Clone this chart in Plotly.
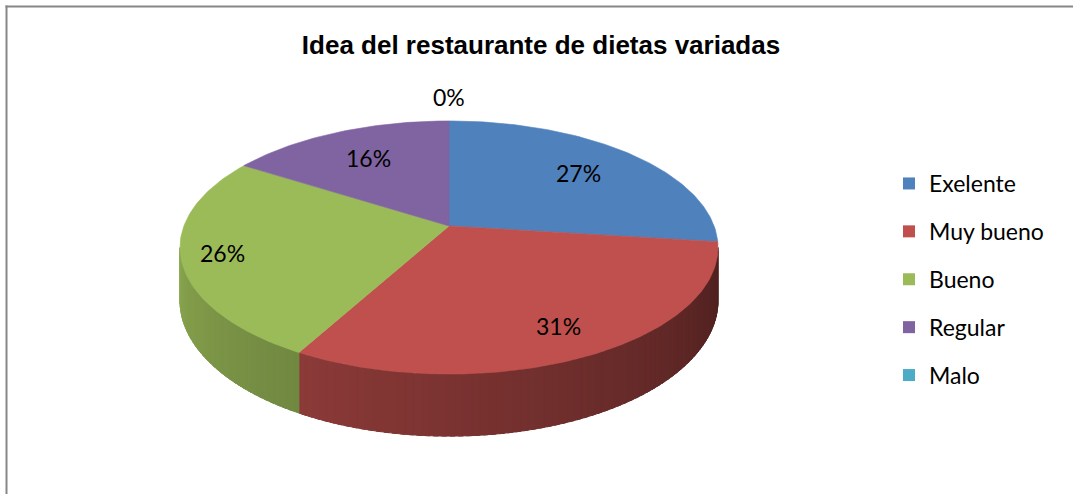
import numpy as np
import plotly.graph_objects as go

# ---------------- data ----------------
categories = ["Exelente", "Muy bueno", "Bueno", "Regular", "Malo"]
values = [27, 31, 26, 16, 0]
colors = ["#4F81BD", "#C0504D", "#9BBB59", "#8064A2", "#4BACC6"]
title_text = "Idea del restaurante de dietas variadas"

# ---------------- geometry / style (pixels) ----------------
W, H = 1073, 494
CX, CY = 449, 226          # projected pie centre
A, B, K, T = 265.1, 122.9, 0.17, 51.5   # half width, half height, perspective, thickness
LABEL_R = [0.7, 0.8, 0.85, 0.7, 1.28]   # radial label positions
LABEL_FONT = dict(family="Lato", size=23, color="#000000")


def proj(phi, r=1.0, drop=0.0):
    u = r * np.sin(phi)
    v = r * np.cos(phi)
    d = 1 + K * v
    return CX + A * u / d, CY - B * v / d + drop / (1 + K * np.cos(phi))


def shade(hex_color, f):
    h = hex_color.lstrip("#")
    rgb = [int(h[i:i + 2], 16) for i in (0, 2, 4)]
    return "rgb({},{},{})".format(*[int(round(c * f)) for c in rgb])


vals = np.array(values, dtype=float)
frac = vals / vals.sum()
ends = np.cumsum(frac) * 2 * np.pi
starts = ends - frac * 2 * np.pi

fig = go.Figure()

# ---- side walls (visible front part) with gradient ----
phi1 = np.arccos(-K)
phi2 = 2 * np.pi - phi1
step = np.radians(1.5)
for i, c in enumerate(colors):
    a, b = max(starts[i], phi1), min(ends[i], phi2)
    if b <= a:
        continue
    n = max(2, int(np.ceil((b - a) / step)))
    edges = np.linspace(a, b, n + 1)
    for j in range(n):
        e0 = edges[j]
        e1 = min(edges[j + 1] + 0.6 * (edges[1] - edges[0]), b)
        ph = np.linspace(e0, e1, 5)
        tx, ty = proj(ph)
        bx, by = proj(ph[::-1], drop=T)
        mid = 0.5 * (edges[j] + edges[j + 1])
        t = (mid - phi1) / (phi2 - phi1)
        f = 0.40 + 0.48 * t
        col = shade(c, f)
        fig.add_trace(go.Scatter(
            x=np.concatenate([tx, bx, tx[:1]]), y=np.concatenate([ty, by, ty[:1]]),
            mode="lines", fill="toself", fillcolor=col,
            line=dict(color=col, width=1), hoverinfo="skip", showlegend=False))

# ---- top faces ----
for i, c in enumerate(colors):
    if frac[i] <= 0:
        continue
    ph = np.linspace(starts[i], ends[i], max(3, int(frac[i] * 400)))
    ax, ay = proj(ph)
    fig.add_trace(go.Scatter(
        x=np.concatenate([[CX], ax, [CX]]), y=np.concatenate([[CY], ay, [CY]]),
        mode="lines", fill="toself", fillcolor=c,
        line=dict(color=c, width=0.6), hoverinfo="skip", showlegend=False))

# ---- labels ----
for i in range(len(values)):
    mid = 0.5 * (starts[i] + ends[i])
    lx, ly = proj(mid, r=LABEL_R[i])
    fig.add_annotation(x=lx, y=ly, xref="x", yref="y", text=f"{round(frac[i] * 100)}%",
                       showarrow=False, font=LABEL_FONT)

# ---- legend entries ----
for cat, c in zip(categories, colors):
    fig.add_trace(go.Scatter(x=[None], y=[None], mode="markers", name=cat,
                             legendgroup=cat,
                             marker=dict(symbol="square", size=14, color=c)))

BORDER = dict(color="#878787", width=2)
fig.update_layout(
    width=W, height=H,
    margin=dict(l=0, r=0, t=0, b=0, autoexpand=False),
    paper_bgcolor="white", plot_bgcolor="white",
    xaxis=dict(range=[0, W], visible=False, fixedrange=True, showline=False,
               zeroline=False, showgrid=False),
    yaxis=dict(range=[H, 0], visible=False, fixedrange=True, showline=False,
               zeroline=False, showgrid=False),
    title=dict(text="<b>" + title_text + "</b>", x=541 / W, xanchor="center",
               y=1 - 45 / H, yanchor="middle",
               font=dict(family="Liberation Sans", size=26, color="#000000")),
    legend=dict(x=889 / W, xanchor="left", y=1 - 162 / H, yanchor="top",
                font=dict(family="Lato", size=23, color="#000000"),
                tracegroupgap=15, itemsizing="constant", bgcolor="rgba(0,0,0,0)"),
    showlegend=True,
    shapes=[
        dict(type="rect", xref="paper", yref="paper", layer="above",
             x0=1058 / W, x1=1.02, y0=-0.02, y1=1 - 8.5 / H,
             fillcolor="white", line=dict(width=0)),
        dict(type="line", xref="paper", yref="paper",
             x0=6.5 / W, x1=6.5 / W, y0=0, y1=1 - 5.5 / H, line=BORDER),
        dict(type="line", xref="paper", yref="paper",
             x0=5.5 / W, x1=1, y0=1 - 6.5 / H, y1=1 - 6.5 / H, line=BORDER),
    ],
)

fig.write_html(
    "out.html",
    config={"displayModeBar": False},
    post_script=(
        "document.documentElement.style.margin='0';"
        "document.documentElement.style.overflow='hidden';"
        "document.body.style.margin='0';document.body.style.overflow='hidden';"
    ),
)
